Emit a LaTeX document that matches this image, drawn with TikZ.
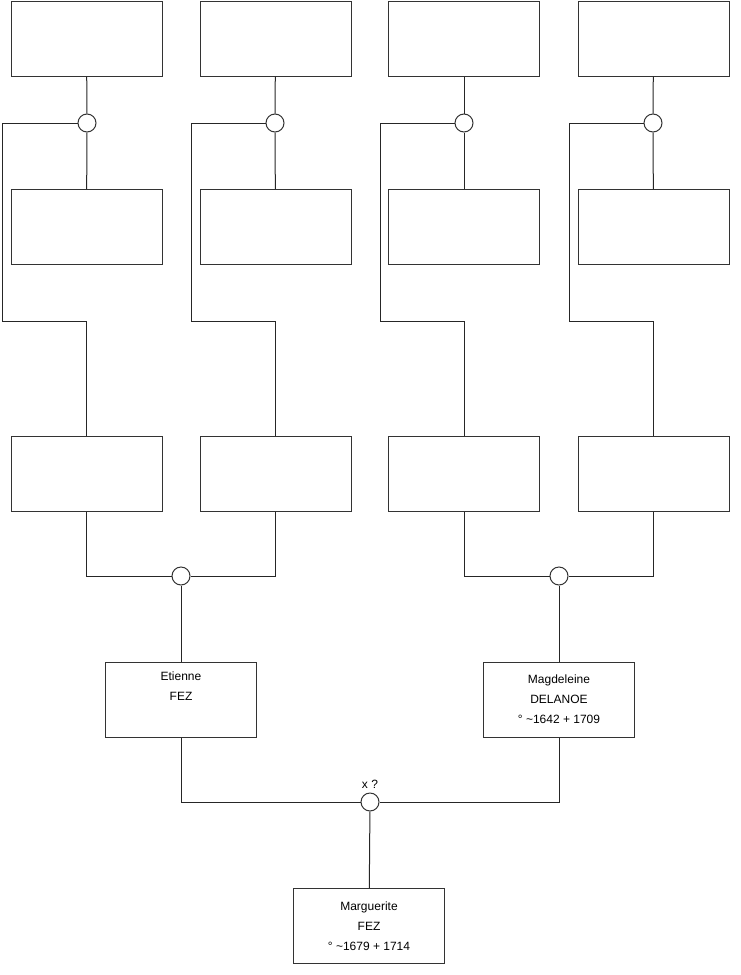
\documentclass[tikz,border=0pt]{standalone}
\usepackage{fontspec}
\setmainfont{Liberation Sans}
\usepackage{tikz}
\usetikzlibrary{positioning}

\begin{document}
\begin{tikzpicture}[
  x=1pt, y=-1pt,
  font=\fontsize{12}{20}\selectfont,
  personbox/.style={draw=black!80, line width=1pt, minimum width=151pt, minimum height=75pt, inner sep=0pt, align=center},
  union/.style={circle, draw=black!80, fill=white, line width=1pt, minimum size=18pt, inner sep=0pt},
  link/.style={draw=black!85, line width=1pt}
]
\useasboundingbox (0,0) rectangle (740,975);

% top row (great-grandparents)
\node[personbox] (ga1) at (86.5,38.5) {};
\node[personbox] (ga2) at (275.5,38.5) {};
\node[personbox] (ga3) at (464,38.5) {};
\node[personbox] (ga4) at (653.5,38.5) {};
% second row
\node[personbox] (gb1) at (86.5,227) {};
\node[personbox] (gb2) at (275.5,227) {};
\node[personbox] (gb3) at (464,227) {};
\node[personbox] (gb4) at (653.5,227) {};
% grandparents
\node[personbox] (gp1) at (86.5,473.5) {};
\node[personbox] (gp2) at (275.5,473.5) {};
\node[personbox] (gp3) at (464,473.5) {};
\node[personbox] (gp4) at (653.5,473.5) {};
% parents and child
\node[personbox] (etienne) at (181,699.5) {Etienne\\FEZ\\\strut};
\node[personbox] (magdeleine) at (559,699.5) {Magdeleine\\DELANOE\\° \textasciitilde1642 + 1709};
\node[personbox] (marguerite) at (369,926) {Marguerite\\FEZ\\° \textasciitilde1679 + 1714};

% unions
\node[union] (u1) at (87,123) {};
\node[union] (u2) at (275,123) {};
\node[union] (u3) at (464,123) {};
\node[union] (u4) at (653,123) {};
\node[union] (u5) at (181,576) {};
\node[union] (u6) at (559,576) {};
\node[union, label={[label distance=0pt]above:x ?}] (u7) at (370,802) {};

\coordinate (k1) at (2,321);
\coordinate (k2) at (191,321);
\coordinate (k3) at (380,321);
\coordinate (k4) at (569,321);

% upper couples
\draw[link] (ga1) -- (u1) -- (gb1);
\draw[link] (ga2) -- (u2) -- (gb2);
\draw[link] (ga3) -- (u3) -- (gb3);
\draw[link] (ga4) -- (u4) -- (gb4);
\draw[link] (u1.west) -| (k1) -| (gp1.north);
\draw[link] (u2.west) -| (k2) -| (gp2.north);
\draw[link] (u3.west) -| (k3) -| (gp3.north);
\draw[link] (u4.west) -| (k4) -| (gp4.north);

% grandparents to parents
\draw[link] (gp1.south) |- (u5.west);
\draw[link] (gp2.south) |- (u5.east);
\draw[link] (u5) -- (etienne);
\draw[link] (gp3.south) |- (u6.west);
\draw[link] (gp4.south) |- (u6.east);
\draw[link] (u6) -- (magdeleine);

% parents to child
\draw[link] (etienne.south) |- (u7.west);
\draw[link] (magdeleine.south) |- (u7.east);
\draw[link] (u7) -- (marguerite);
\end{tikzpicture}
\end{document}
